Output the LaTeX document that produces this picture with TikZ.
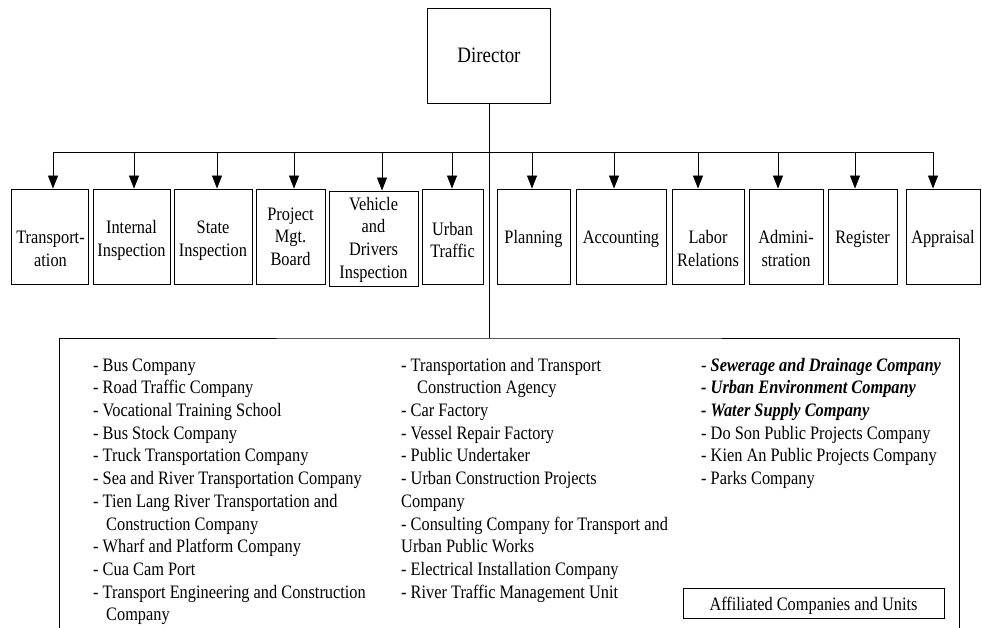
\documentclass[tikz,border=0pt]{standalone}
\usepackage{fontspec}
\setmainfont{Liberation Serif}[FakeStretch=0.86]
\usetikzlibrary{arrows.meta}
\newcommand\unitfont{\fontsize{19}{22.7}\selectfont}
\newcommand\headfont{\fontsize{22}{26}\selectfont}

\begin{document}
\begin{tikzpicture}[x=1pt,y=-1pt,
  wire/.style={line width=0.9pt},
  frame/.style={draw, line width=0.9pt, inner sep=0pt},
  unittext/.style={anchor=north, inner sep=0pt, align=center, font=\unitfont},
  listtext/.style={anchor=north west, inner sep=0pt, align=left, font=\unitfont},
  arr/.style={line width=0.9pt, -{Triangle[length=13pt,width=10pt]}}]

\useasboundingbox (0,0) rectangle (982,628);

% head of the organisation
\node[frame, minimum width=123pt, minimum height=95pt, font=\headfont] (dir) at (489,55.5) {Director};

% departments: frames, then their captions (first baseline = y + 15.89)
\node[frame, minimum width=77pt, minimum height=95pt] (transp)  at (49.5,236.5) {};
\node[frame, minimum width=77pt, minimum height=95pt] (intinsp) at (131.5,236.5) {};
\node[frame, minimum width=78pt, minimum height=95pt] (stinsp)  at (213,236.5) {};
\node[frame, minimum width=69pt, minimum height=95pt] (pmb)     at (290.5,236.5) {};
\node[frame, minimum width=89pt, minimum height=95pt] (vdi)     at (373.5,238.5) {};
\node[frame, minimum width=61pt, minimum height=95pt] (urban)   at (452.5,236.5) {};
\node[frame, minimum width=73pt, minimum height=95pt] (plan)    at (533.5,236.5) {};
\node[frame, minimum width=90pt, minimum height=95pt] (acct)    at (621,236.5) {};
\node[frame, minimum width=72pt, minimum height=95pt] (labor)   at (708,236.5) {};
\node[frame, minimum width=74pt, minimum height=95pt] (admin)   at (786,236.5) {};
\node[frame, minimum width=69pt, minimum height=95pt] (reg)     at (862.5,236.5) {};
\node[frame, minimum width=74pt, minimum height=95pt] (appr)    at (943,236.5) {};

\node[unittext] (transp-t)  at (50.5,227.4)  {\strut Transport-\\ation};
\node[unittext] (intinsp-t) at (131.5,217.4) {\strut Internal\\Inspection};
\node[unittext] (stinsp-t)  at (213,217.4)   {\strut State\\Inspection};
\node[unittext] (pmb-t)     at (290.5,204.1) {\strut Project\\Mgt.\\Board};
\node[unittext] (vdi-t)     at (373.5,194.1) {\strut Vehicle\\and\\Drivers\\Inspection};
\node[unittext] (urban-t)   at (452.5,219.1) {\strut Urban\\Traffic};
\node[unittext] (plan-t)    at (533.5,227.4) {\strut Planning};
\node[unittext] (acct-t)    at (621,227.4)   {\strut Accounting};
\node[unittext] (labor-t)   at (708,227.4)   {\strut Labor\\Relations};
\node[unittext] (admin-t)   at (786,227.4)   {\strut Admini-\\stration};
\node[unittext] (reg-t)     at (862.5,227.4) {\strut Register};
\node[unittext] (appr-t)    at (943,227.4)   {\strut Appraisal};

% distribution bus and drop arrows
\coordinate (busL) at (53,152);
\coordinate (busR) at (933,152);
\coordinate (hub)  at (489,338);
\draw[wire] (busL) -- (busR);
\draw[wire] (dir.south) -- (hub);
\foreach \b/\x in {transp/53, intinsp/134, stinsp/217, pmb/294, vdi/382, urban/452,
                   plan/532, acct/614, labor/698, admin/778, reg/855, appr/933}
  \draw[arr] (\x,152) -- (\x,152 |- \b.north);

% affiliated companies panel (open at the bottom)
\draw[wire] (59,632) |- (hub) -| (959,632);

\node[listtext] (col1) at (93,355.1) {\strut- Bus Company\\
- Road Traffic Company\\
- Vocational Training School\\
- Bus Stock Company\\
- Truck Transportation Company\\
- Sea and River Transportation Company\\
- Tien Lang River Transportation and\\
\hspace*{13pt}Construction Company\\
- Wharf and Platform Company\\
- Cua Cam Port\\
- Transport Engineering and Construction\\
\hspace*{13pt}Company};

\node[listtext] (col2) at (401,355.1) {\strut- Transportation and Transport\\
\hspace*{16pt}Construction Agency\\
- Car Factory\\
- Vessel Repair Factory\\
- Public Undertaker\\
- Urban Construction Projects\\
Company\\
- Consulting Company for Transport and\\
Urban Public Works\\
- Electrical Installation Company\\
- River Traffic Management Unit};

\node[listtext] (col3) at (701,355.1) {\strut- \textbf{\textit{Sewerage and Drainage Company}}\\
\textbf{\textit{- Urban Environment Company}}\\
\textbf{\textit{- Water Supply Company}}\\
- Do Son Public Projects Company\\
- Kien An Public Projects Company\\
- Parks Company};

\node[frame, minimum width=261pt, minimum height=30pt, text height=15.4pt, text depth=0pt,
      font=\unitfont] (affil) at (813.5,603) {Affiliated Companies and Units};

\end{tikzpicture}
\end{document}
